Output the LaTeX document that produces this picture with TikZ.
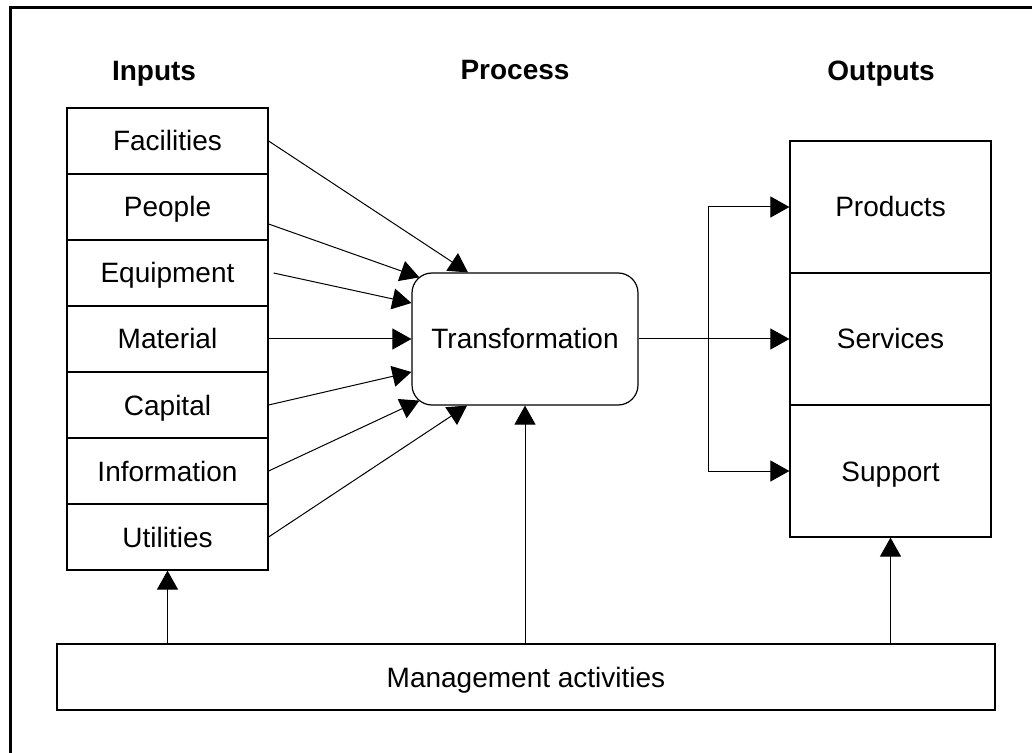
\documentclass[tikz,border=0pt]{standalone}
\usepackage{fontspec}
\setmainfont{Liberation Sans}
\usepackage{tikz}
\usetikzlibrary{arrows.meta}

\begin{document}
\begin{tikzpicture}[x=0.5pt, y=-0.5pt,
  every node/.style={font=\fontsize{14}{16}\selectfont, text height=10pt, text depth=0pt},
  title/.style={font=\fontsize{14}{16}\selectfont\bfseries, anchor=base},
  inbox/.style={draw, line width=0.6pt, minimum width=100.5pt, minimum height=33pt, inner sep=0pt},
  outbox/.style={draw, line width=0.6pt, minimum width=100.5pt, minimum height=66pt, inner sep=0pt},
  flow/.style={line width=0.5pt, -{Triangle[length=9.5pt,width=10.5pt]}}]
\useasboundingbox (0,0) rectangle (1032,753);
\draw[line width=1.6pt] (10.5,753) -- (10.5,7.5) -- (1032,7.5);

\node[title] (tin) at (154,81) {Inputs};
\node[title] (tproc) at (515,80) {Process};
\node[title] (tout) at (881,81) {Outputs};

\foreach \name/\label [count=\i] in {fac/Facilities, peo/People, equ/Equipment, mat/Material, cap/Capital, inf/Information, uti/Utilities}
  \node[inbox] (\name) at (167.5, 75+66*\i) {\label};

\node[draw, line width=0.6pt, rounded corners=10pt, minimum width=113pt, minimum height=66pt] (trans) at (525,339) {Transformation};

\node[outbox] (prod) at (890.5,207) {Products};
\node[outbox] (serv) at (890.5,339) {Services};
\node[outbox] (supp) at (890.5,471) {Support};

\node[draw, line width=0.6pt, minimum width=469pt, minimum height=33pt] (mgmt) at (526,677) {Management activities};

% inputs into the transformation
\draw[flow] (fac.east) -- ([xshift=-28.5pt]trans.north);
\draw[flow] ([yshift=-8.5pt]peo.east) -- ([xshift=4pt,yshift=-2.5pt]trans.north west);
\draw[flow] ([xshift=2.5pt]equ.east) -- ([yshift=18pt]trans.west);
\draw[flow] (mat.east) -- (trans.west);
\draw[flow] (cap.east) -- ([yshift=-16.5pt]trans.west);
\draw[flow] (inf.east) -- ([xshift=4pt,yshift=2.5pt]trans.south west);
\draw[flow] (uti.east) -- ([xshift=-29pt]trans.south);

% outputs
\coordinate (split) at (708,339);
\draw[flow] (trans.east) -- (serv.west);
\draw[flow] (split) |- (prod.west);
\draw[flow] (split) |- (supp.west);

% management
\draw[flow] (mgmt.north -| uti.south) -- (uti.south);
\draw[flow] (mgmt.north -| trans.south) -- (trans.south);
\draw[flow] (mgmt.north -| supp.south) -- (supp.south);
\end{tikzpicture}
\end{document}
